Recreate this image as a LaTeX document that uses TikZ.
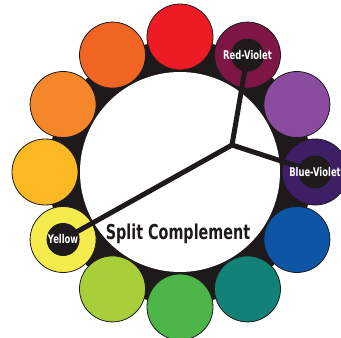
\documentclass[tikz,border=0pt]{standalone}
\usepackage{fontspec}
\usepackage{xcolor}
\newfontfamily\wheelfont[FakeStretch=0.7]{DejaVu Sans}
\definecolor{cRed}{HTML}{ED1C24}
\definecolor{cRedOrange}{HTML}{F16522}
\definecolor{cOrange}{HTML}{F6862A}
\definecolor{cYellowOrange}{HTML}{FDB924}
\definecolor{cYellow}{HTML}{F4EC4C}
\definecolor{cYellowGreen}{HTML}{A8CF3A}
\definecolor{cGreen}{HTML}{4CB748}
\definecolor{cTeal}{HTML}{128176}
\definecolor{cBlue}{HTML}{0D56A6}
\definecolor{cBlueViolet}{HTML}{3E1F66}
\definecolor{cViolet}{HTML}{8B4B9F}
\definecolor{cRedViolet}{HTML}{7D1545}
\definecolor{cInk}{HTML}{1E1A1B}
\tikzset{
  hue/.style={draw=cInk,line width=0.8pt},
  pick/.style={inner sep=0pt,text=white,
    font=\wheelfont\bfseries\fontsize{12}{14}\selectfont},
  spoke/.style={cInk,line width=5pt}
}

\begin{document}
\begin{tikzpicture}[x=1pt,y=1pt]
      \useasboundingbox (-180,-166) rectangle (161,172);
      % black backing and the twelve hues
      \fill[cInk] (0,0) circle (132);
      \foreach \a/\c in {90/cRed,120/cRedOrange,150/cOrange,180/cYellowOrange,
          210/cYellow,240/cYellowGreen,270/cGreen,300/cTeal,330/cBlue,
          0/cBlueViolet,30/cViolet,60/cRedViolet}
        \draw[hue,fill=\c] (\a:135) circle (33);
      \fill[white] (0,0) circle (100);
      % split complement
      \coordinate (hub) at (52,27);
      \coordinate (rv) at (60:135);
      \coordinate (bv) at (0:135);
      \coordinate (yl) at (210:135);
      \draw[spoke] (hub) -- (rv);
      \draw[spoke] (hub) -- (bv);
      \draw[spoke] (hub) -- (yl);
      \foreach \p in {rv,bv,yl}
        \fill[cInk] (\p) circle (16.5);
      \node[pick] (rvname) at (rv) {Red-Violet};
      \node[pick] (bvname) at (bv) {Blue-Violet};
      \node[pick] (ylname) at (yl) {Yellow};
      \node[text=cInk,font=\wheelfont\bfseries\fontsize{20.5}{24}\selectfont]
        (title) at (-2,-62) {Split Complement};
    \end{tikzpicture}
\end{document}
